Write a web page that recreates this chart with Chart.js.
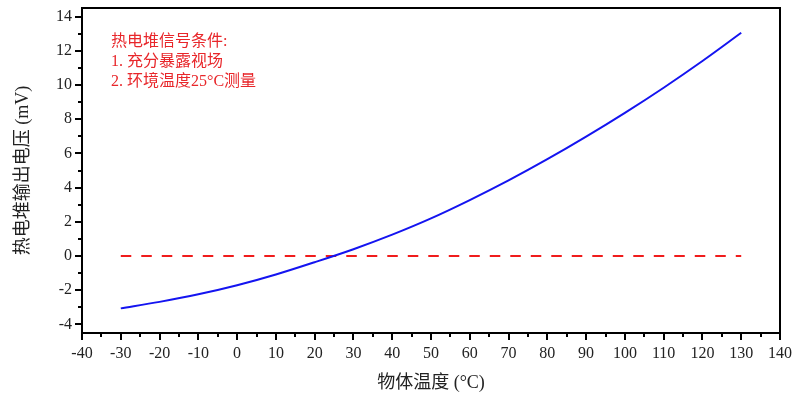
<!DOCTYPE html>
<html>
<head>
<meta charset="utf-8">
<script src="https://cdn.jsdelivr.net/npm/chart.js@4"></script>
<style>
  html, body { margin: 0; padding: 0; background: #fff; }
  #wrap { width: 795px; height: 395px; }
</style>
</head>
<body>
<div id="wrap"><canvas id="chart" width="795" height="395"></canvas></div>
<script>
// Readings
const temps = [-30, -20, -10, 0, 10, 20, 30, 40, 50, 60, 70, 80, 90, 100, 110, 120, 130];
const voltage = [-3.06, -2.68, -2.24, -1.71, -1.08, -0.36, 0.4, 1.25, 2.2, 3.27, 4.42, 5.66, 6.98, 8.37, 9.84, 11.4, 13.05];
const zeroLineX = [-30, 130];
const zeroLineY = [0, 0];

const xTicks = [-40, -30, -20, -10, 0, 10, 20, 30, 40, 50, 60, 70, 80, 90, 100, 110, 120, 130, 140];
const yTicks = [-4, -2, 0, 2, 4, 6, 8, 10, 12, 14];
const xRange = [-40, 140];
const yRange = [-4.5, 14.5];

const noteLines = ["热电堆信号条件:", "1. 充分暴露视场", "2. 环境温度25°C测量"];

const SERIF = '"Liberation Serif", "Noto Sans CJK SC", serif';

// midpoints between major ticks -> minor ticks
function minorOf(ticks) {
  const out = [];
  for (let i = 0; i < ticks.length - 1; i++) out.push((ticks[i] + ticks[i + 1]) / 2);
  return out;
}

// Outward ticks (major + minor), full frame and the red note
const framePlugin = {
  id: "frame",
  afterDraw(chart) {
    const { ctx, chartArea: a, scales: { x, y } } = chart;
    ctx.save();
    ctx.strokeStyle = "#000";
    ctx.lineWidth = 2;
    ctx.strokeRect(a.left, a.top, a.right - a.left, a.bottom - a.top);

    ctx.beginPath();
    xTicks.forEach(v => { const px = Math.round(x.getPixelForValue(v)); ctx.moveTo(px, a.bottom); ctx.lineTo(px, a.bottom + 7); });
    minorOf(xTicks).forEach(v => { const px = Math.round(x.getPixelForValue(v)); ctx.moveTo(px, a.bottom); ctx.lineTo(px, a.bottom + 4); });
    yTicks.forEach(v => { const py = Math.round(y.getPixelForValue(v)); ctx.moveTo(a.left, py); ctx.lineTo(a.left - 7, py); });
    minorOf(yTicks).forEach(v => { const py = Math.round(y.getPixelForValue(v)); ctx.moveTo(a.left, py); ctx.lineTo(a.left - 4, py); });
    ctx.stroke();

    ctx.fillStyle = "#e8262a";
    ctx.font = "16px " + SERIF;
    ctx.textBaseline = "middle";
    noteLines.forEach((t, i) => ctx.fillText(t, a.left + 29, a.top + 34 + i * 20));
    ctx.restore();
  },
};

new Chart(document.getElementById("chart"), {
  type: "line",
  data: {
    datasets: [
      {
        data: temps.map((t, i) => ({ x: t, y: voltage[i] })),
        borderColor: "#1414f0",
        borderWidth: 2,
        pointRadius: 0,
        cubicInterpolationMode: "monotone",
      },
      {
        data: zeroLineX.map((t, i) => ({ x: t, y: zeroLineY[i] })),
        borderColor: "#f01c1c",
        borderWidth: 2,
        borderDash: [10.5, 10],
        pointRadius: 0,
      },
    ],
  },
  options: {
    responsive: false,
    animation: false,
    layout: { padding: { left: 0, right: 15, top: 8, bottom: 0 } },
    plugins: { legend: { display: false }, tooltip: { enabled: false } },
    scales: {
      x: {
        type: "linear",
        min: xRange[0], max: xRange[1],
        afterBuildTicks: s => { s.ticks = xTicks.map(v => ({ value: v })); },
        afterFit: s => { s.height = 62; s.paddingLeft = 0; s.paddingRight = 0; },
        grid: { drawOnChartArea: false, drawTicks: false },
        border: { color: "#000", width: 2 },
        ticks: { color: "#222", padding: 11, maxRotation: 0, autoSkip: false, font: { family: SERIF, size: 16 } },
        title: { display: true, text: "物体温度 (°C)", color: "#222", padding: { top: 0, bottom: 1 }, font: { family: SERIF, size: 18 } },
      },
      y: {
        type: "linear",
        min: yRange[0], max: yRange[1],
        afterBuildTicks: s => { s.ticks = yTicks.map(v => ({ value: v })); },
        afterFit: s => { s.width = 82; s.paddingTop = 0; s.paddingBottom = 0; },
        grid: { drawOnChartArea: false, drawTicks: false },
        border: { color: "#000", width: 2 },
        ticks: { color: "#222", padding: 10, autoSkip: false, font: { family: SERIF, size: 16 } },
        title: { display: true, text: "热电堆输出电压 (mV)", color: "#222", padding: { top: 12, bottom: 0 }, font: { family: SERIF, size: 18 } },
      },
    },
  },
  plugins: [framePlugin],
});
</script>
</body>
</html>
